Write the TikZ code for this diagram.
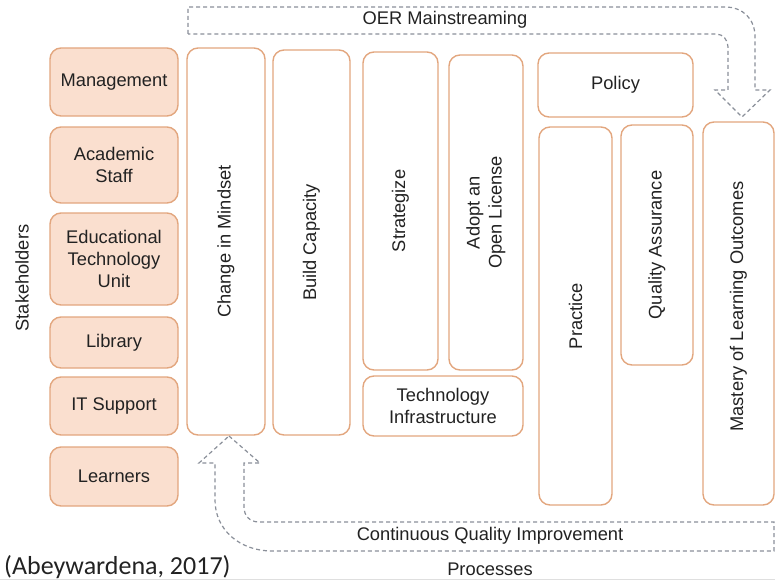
\documentclass[tikz,border=0pt]{standalone}
\usepackage{fontspec}
\setmainfont{Liberation Sans}
\newfontfamily\citefont{Carlito}
\definecolor{boxorange}{HTML}{E2A67E}
\definecolor{peach}{HTML}{FADFCF}
\definecolor{dashgray}{HTML}{8A8F99}
\definecolor{txt}{HTML}{222222}
\tikzset{
  box/.style={draw=boxorange, line width=1.4pt, rounded corners=11pt, inner sep=0pt, outer sep=0pt, align=center, text=txt, font=\fontsize{18.3}{22}\selectfont},
  shbox/.style={box, fill=peach},
  vbox/.style={box, rotate=90},
  flowarrow/.style={draw=dashgray, line width=1.2pt, dash pattern=on 4pt off 3pt},
  lbl/.style={text=txt, font=\fontsize{18.3}{22}\selectfont, inner sep=0pt}
}
\begin{document}
\begin{tikzpicture}[x=1pt,y=1pt]
\useasboundingbox (0,0) rectangle (775,-586);
% stakeholders
\node[lbl, rotate=90] (stake) at (22,-278) {Stakeholders};
\node[shbox, minimum width=128, minimum height=68] (mgmt) at (114,-82) {Management};
\node[shbox, minimum width=128, minimum height=76] (acad) at (114,-165) {Academic\\Staff};
\node[shbox, minimum width=128, minimum height=92] (etu) at (114,-259) {Educational\\Technology\\Unit};
\node[shbox, minimum width=128, minimum height=51] (lib) at (114,-342.5) {Library};
\node[shbox, minimum width=128, minimum height=58] (its) at (114,-406) {IT Support};
\node[shbox, minimum width=128, minimum height=59] (learn) at (114,-476.5) {Learners};
% processes
\node[vbox, minimum width=387, minimum height=78] (cim) at (226,-241.5) {Change in Mindset};
\node[vbox, minimum width=385, minimum height=77] (bc) at (311.5,-242.5) {Build Capacity};
\node[vbox, minimum width=318, minimum height=75] (strat) at (400.5,-211) {Strategize};
\node[vbox, minimum width=315, minimum height=74] (adopt) at (486,-212.5) {Adopt an\\Open License};
\node[box, minimum width=160, minimum height=60] (tech) at (443,-406) {Technology\\Infrastructure};
\node[box, minimum width=155, minimum height=64] (policy) at (615.5,-85) {Policy};
\node[vbox, minimum width=378, minimum height=73] (practice) at (575.5,-316) {Practice};
\node[vbox, minimum width=240, minimum height=72] (qa) at (657,-245) {Quality Assurance};
\node[vbox, minimum width=383, minimum height=71] (mastery) at (738.5,-313.5) {};
\node[lbl, rotate=90] (masterytext) at ([yshift=7pt]mastery.center) {Mastery of Learning Outcomes};
% OER mainstreaming arrow
\coordinate (oertip) at (742,-117);
\draw[flowarrow] (188,-34) -- (188,-7) -- (725,-7)
  .. controls (743,-7) and (755,-19) .. (755,-37)
  -- (755,-90) -- (770,-90) -- (oertip) -- (715,-90) -- (728,-90) -- (728,-47)
  .. controls (728,-40) and (723,-34) .. (716,-34) -- cycle;
\node[lbl] (oer) at (445,-20) {OER Mainstreaming};
% CQI arrow
\coordinate (cqitip) at (229,-436);
\draw[flowarrow] (cqitip) -- (260,-463) -- (244,-463) -- (244,-507)
  .. controls (244,-516) and (250,-522) .. (259,-522)
  -- (774,-522) -- (774,-551) -- (272,-551)
  .. controls (240,-551) and (215,-530) .. (215,-500)
  -- (215,-463) -- (199,-463) -- cycle;
\node[lbl] (cqi) at (490,-536) {Continuous Quality Improvement};
\node[lbl] (proc) at (490,-569) {Processes};
\node[text=txt, inner sep=0pt, anchor=west, font=\citefont\fontsize{26}{30}\selectfont] (cite) at (4,-567) {(Abeywardena, 2017)};
\draw[gray!25, line width=0.8pt] (0,-579.5) -- (775,-579.5);
\end{tikzpicture}
\end{document}
